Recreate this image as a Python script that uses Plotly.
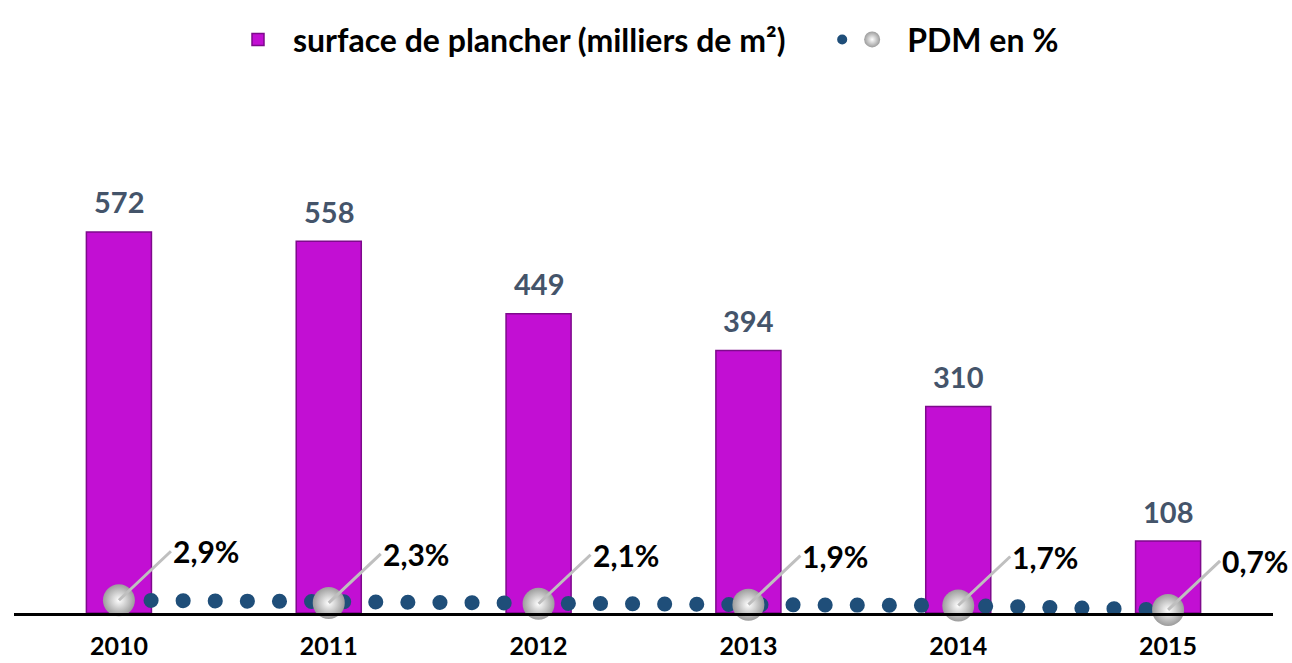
import plotly.graph_objects as go

years = ["2010", "2011", "2012", "2013", "2014", "2015"]
surface = [572, 558, 449, 394, 310, 108]
pdm = [2.9, 2.3, 2.1, 1.9, 1.7, 0.7]
pdm_labels = ["2,9%", "2,3%", "2,1%", "1,9%", "1,7%", "0,7%"]
legend_names = ["surface de plancher (milliers de m²)", "PDM en %"]

FONT = "Lato"
BAR_COLOR = "#C20FD3"
NBSP = "\u00a0"

fig = go.Figure()
fig.add_trace(go.Bar(
    x=years, y=surface, name=legend_names[0] + NBSP * 6,
    marker=dict(color=BAR_COLOR, line=dict(color="#7E0A8C", width=1.5)),
    width=0.31, yaxis="y",
))
fig.add_trace(go.Scatter(
    x=years, y=pdm, name=legend_names[1], yaxis="y2", mode="lines+markers",
    line=dict(color="#1F4E79", width=15, dash="0.1px,32px"),
    marker=dict(size=32, color="#9C9C9C", symbol="circle",
                gradient=dict(type="radial", color="#FFFFFF"),
                line=dict(width=0)),
    cliponaxis=False,
))

annotations = []
for i, v in enumerate(surface):
    annotations.append(dict(
        x=i, y=v, xref="x", yref="y", text=str(v), showarrow=False,
        yshift=30, font=dict(family=FONT, size=29, color="#44546A", weight="bold"),
    ))
for i, (v, t) in enumerate(zip(pdm, pdm_labels)):
    annotations.append(dict(
        x=i, y=v, xref="x", yref="y2", text=t, showarrow=True,
        ax=52, ay=-49, xanchor="left", yanchor="middle",
        arrowhead=0, arrowwidth=3, arrowcolor="#BFBFBF", standoff=0,
        font=dict(family=FONT, size=30, color="#000000", weight="bold"),
    ))

fig.update_layout(
    width=1292, height=663,
    margin=dict(l=14, r=19, t=110, b=50),
    paper_bgcolor="white", plot_bgcolor="white",
    font=dict(family=FONT, color="#000000"),
    showlegend=True,
    legend=dict(orientation="h", x=0.5, xanchor="center", y=1.163, yanchor="middle",
                font=dict(family=FONT, size=32, color="#000000", weight="bold"),
                itemwidth=60, itemsizing="trace"),
    xaxis=dict(type="category", categoryorder="array", categoryarray=years,
               range=[-0.5, len(years) - 0.5], autorange=False, automargin=False,
               showline=True, linecolor="#000000", linewidth=3,
               ticks="", showgrid=False, zeroline=False, ticklabelstandoff=9,
               tickfont=dict(family=FONT, size=25, color="#000000", weight="bold")),
    yaxis=dict(range=[0, 740], visible=False, showgrid=False, zeroline=False),
    yaxis2=dict(range=[0, 112], overlaying="y", side="right", visible=False,
                showgrid=False, zeroline=False),
    annotations=annotations,
)

post = """
document.body.style.margin = '0';
document.body.style.padding = '0';
var fix = function(){
  document.querySelectorAll('.js-line').forEach(function(p){
    p.style.strokeLinecap = 'round';
  });
};
fix();
var gd = document.getElementsByClassName('plotly-graph-div')[0];
if (gd && gd.on) { gd.on('plotly_afterplot', fix); }
"""
fig.write_html("out.html", post_script=post, config={"displayModeBar": False})
